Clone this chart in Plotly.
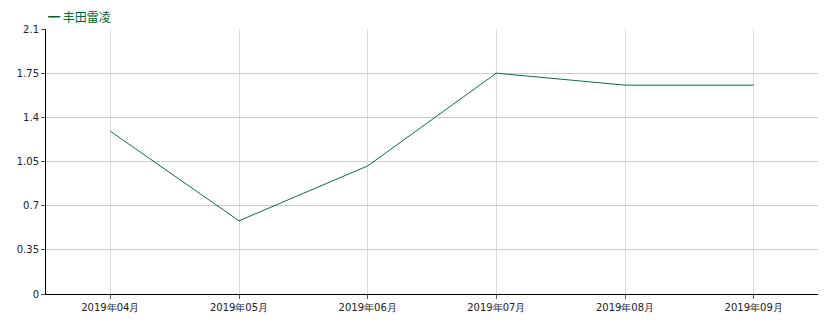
import plotly.graph_objects as go

categories = ["2019年04月", "2019年05月", "2019年06月", "2019年07月", "2019年08月", "2019年09月"]
values = [1.29, 0.58, 1.015, 1.75, 1.655, 1.655]
series_name = "丰田雷凌"
y_ticks = [0, 0.35, 0.7, 1.05, 1.4, 1.75, 2.1]
y_tick_text = ["0", "0.35", "0.7", "1.05", "1.4", "1.75", "2.1"]

fig = go.Figure()
fig.add_trace(go.Scatter(
    x=categories, y=values, mode="lines", name=series_name,
    line=dict(color="#0e6e3e", width=1),
))

fig.add_annotation(
    text="━ " + series_name, xref="paper", yref="paper",
    x=0, y=1, xanchor="left", yanchor="bottom", yshift=2, showarrow=False,
    font=dict(family="Noto Sans CJK SC, sans-serif", size=12, color="#006633"),
)

fig.update_layout(
    width=838, height=330,
    margin=dict(l=46, r=20, t=29, b=36),
    paper_bgcolor="white", plot_bgcolor="white",
    font=dict(family="DejaVu Sans, Verdana, sans-serif", size=10, color="#222"),
    showlegend=False,
    xaxis=dict(
        type="category", range=[-0.5, 5.5],
        showgrid=True, gridcolor="#d9d9d9", gridwidth=1,
        showline=True, linecolor="#000", linewidth=1,
        ticks="outside", ticklen=4, tickcolor="#555",
        tickfont=dict(size=10), zeroline=False,
    ),
    yaxis=dict(
        range=[0, 2.1], tickvals=y_ticks, ticktext=y_tick_text,
        showgrid=True, gridcolor="#cccccc", gridwidth=1,
        showline=True, linecolor="#000", linewidth=1,
        ticks="outside", ticklen=4, tickcolor="#555",
        zeroline=False, tickfont=dict(size=10),
    ),
)

fig.write_html("out.html")
